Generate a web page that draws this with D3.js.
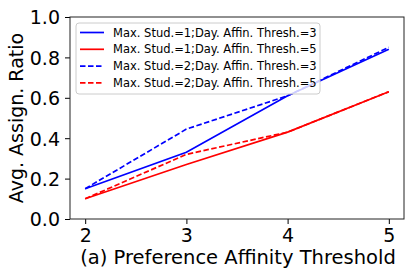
<!DOCTYPE html>
<html lang="en">
<head>
  <meta charset="UTF-8">
  <title>Avg. Assign. Ratio</title>
  <script src="https://d3js.org/d3.v7.min.js"></script>
  <style>
    body { margin: 0; padding: 0; background: #fff; }
    svg { display: block; font-family: 'DejaVu Sans', sans-serif; }
  </style>
</head>
<body>
  <div id="chart"></div>
  <script>
    // data
    const thresholds = [2, 3, 4, 5];
    const stud1Day3 = [0.15, 0.33, 0.61, 0.84];
    const stud1Day5 = [0.10, 0.27, 0.43, 0.63];
    const stud2Day3 = [0.15, 0.445, 0.61, 0.85];
    const stud2Day5 = [0.10, 0.32, 0.43, 0.63];
    const yTicks = [0, 0.2, 0.4, 0.6, 0.8, 1.0];

    const series = [
      { name: 'Max. Stud.=1;Day. Affin. Thresh.=3', values: stud1Day3, color: 'blue', dash: null },
      { name: 'Max. Stud.=1;Day. Affin. Thresh.=5', values: stud1Day5, color: 'red', dash: null },
      { name: 'Max. Stud.=2;Day. Affin. Thresh.=3', values: stud2Day3, color: 'blue', dash: '5.5,2.5' },
      { name: 'Max. Stud.=2;Day. Affin. Thresh.=5', values: stud2Day5, color: 'red', dash: '5.5,2.5' }
    ];

    const width = 415, height = 277;
    const margin = { top: 17, right: 11, bottom: 58, left: 70 };

    const svg = d3.select('#chart')
      .append('svg')
      .attr('width', width)
      .attr('height', height);

    const x = d3.scaleLinear()
      .domain([1.85, 5.15])
      .range([margin.left, width - margin.right]);

    const y = d3.scaleLinear()
      .domain([0, 1])
      .range([height - margin.bottom, margin.top]);

    // axes
    const xAxis = svg.append('g')
      .attr('transform', `translate(0,${height - margin.bottom})`)
      .call(d3.axisBottom(x).tickValues(thresholds).tickFormat(d3.format('d')).tickSize(5).tickPadding(5));

    const yAxis = svg.append('g')
      .attr('transform', `translate(${margin.left},0)`)
      .call(d3.axisLeft(y).tickValues(yTicks).tickFormat(d3.format('.1f')).tickSize(5).tickPadding(5));

    [xAxis, yAxis].forEach(g => {
      g.select('.domain').remove();
      g.selectAll('.tick line').attr('stroke', '#000').attr('stroke-width', 1);
      g.selectAll('.tick text').attr('font-size', 19).attr('fill', '#000')
        .attr('font-family', "'DejaVu Sans', sans-serif");
    });
    yAxis.selectAll('.tick text').attr('dy', '0.36em');

    // frame
    svg.append('rect')
      .attr('x', margin.left)
      .attr('y', margin.top)
      .attr('width', width - margin.left - margin.right)
      .attr('height', height - margin.top - margin.bottom)
      .attr('fill', 'none')
      .attr('stroke', '#222')
      .attr('stroke-width', 1);

    // lines
    const line = d3.line()
      .x((d, i) => x(thresholds[i]))
      .y(d => y(d));

    svg.append('g')
      .selectAll('path')
      .data(series)
      .join('path')
      .attr('d', d => line(d.values))
      .attr('fill', 'none')
      .attr('stroke', d => d.color)
      .attr('stroke-width', 1.7)
      .attr('stroke-dasharray', d => d.dash);

    // legend
    const legend = svg.append('g').attr('transform', 'translate(76,23)');
    legend.append('rect')
      .attr('width', 244)
      .attr('height', 71)
      .attr('rx', 3)
      .attr('fill', 'rgba(255,255,255,0.8)')
      .attr('stroke', '#ccc')
      .attr('stroke-width', 1);

    const rows = legend.selectAll('g.row')
      .data(series)
      .join('g')
      .attr('class', 'row')
      .attr('transform', (d, i) => `translate(0,${9.5 + i * 16.8})`);

    rows.append('line')
      .attr('x1', 4).attr('x2', 28)
      .attr('stroke', d => d.color)
      .attr('stroke-width', 1.7)
      .attr('stroke-dasharray', d => d.dash);

    rows.append('text')
      .attr('x', 37)
      .attr('dy', '0.36em')
      .attr('font-size', 11.5)
      .attr('fill', '#000')
      .text(d => d.name);

    // axis titles
    svg.append('text')
      .attr('x', 238)
      .attr('y', 264)
      .attr('text-anchor', 'middle')
      .attr('font-size', 19.5)
      .attr('fill', '#000')
      .text('(a) Preference Affinity Threshold');

    svg.append('text')
      .attr('transform', `translate(23,${(margin.top + height - margin.bottom) / 2}) rotate(-90)`)
      .attr('text-anchor', 'middle')
      .attr('font-size', 19)
      .attr('fill', '#000')
      .text('Avg. Assign. Ratio');
  </script>
</body>
</html>
